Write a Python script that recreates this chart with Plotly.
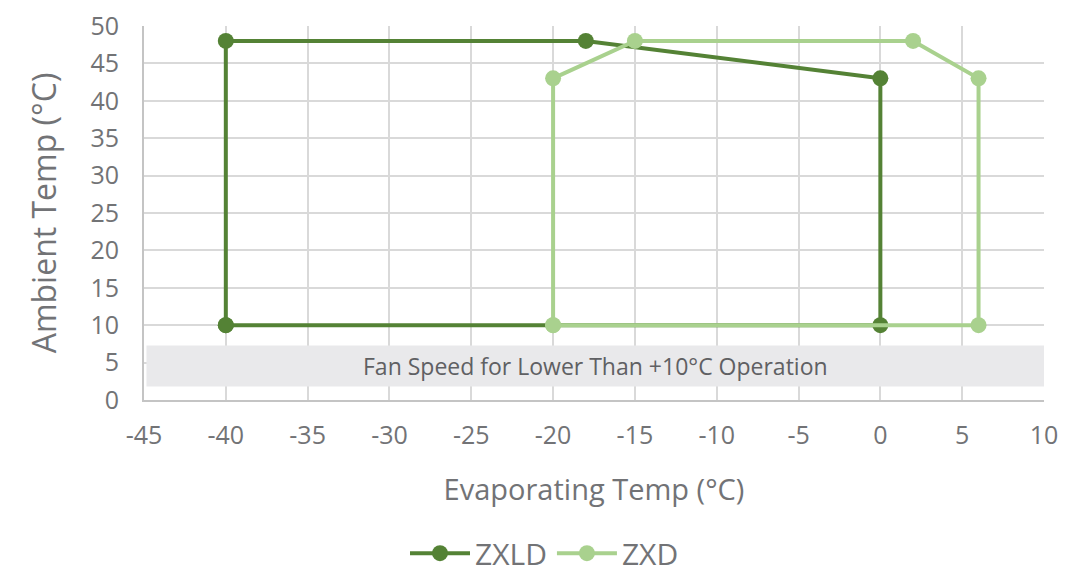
"""Operating envelope: ZXLD vs ZXD condensing units."""
import plotly.graph_objects as go

# ZXLD envelope (closed polygon)
zxld_x = [-40, -40, -18, 0, 0, -40]
zxld_y = [10, 48, 48, 43, 10, 10]

# ZXD envelope (closed polygon)
zxd_x = [-20, -20, -15, 2, 6, 6, -20]
zxd_y = [10, 43, 48, 48, 43, 10, 10]

x_ticks = [-45, -40, -35, -30, -25, -20, -15, -10, -5, 0, 5, 10]
y_ticks = [0, 5, 10, 15, 20, 25, 30, 35, 40, 45, 50]

band_x = [-44.85, 10]
band_y = [1.8, 7.3]
band_label = "Fan Speed for Lower Than +10°C Operation"

DARK = "#548235"
LIGHT = "#a9d18e"
TEXT = "#727376"
FONT = "Open Sans"

fig = go.Figure()
fig.add_trace(go.Scatter(
    x=zxld_x, y=zxld_y, name="ZXLD", mode="lines+markers",
    line=dict(color=DARK, width=4), marker=dict(size=16, color=DARK),
))
fig.add_trace(go.Scatter(
    x=zxd_x, y=zxd_y, name="ZXD", mode="lines+markers",
    line=dict(color=LIGHT, width=4), marker=dict(size=16, color=LIGHT),
))

fig.add_shape(
    type="rect", xref="x", yref="y",
    x0=band_x[0], x1=band_x[1], y0=band_y[0], y1=band_y[1],
    fillcolor="#e9e9eb", line=dict(width=0), layer="above",
)
fig.add_annotation(
    x=sum(band_x) / 2, y=sum(band_y) / 2, text=band_label, showarrow=False,
    font=dict(family=FONT, size=23, color="#5f6063"),
)

# page body adds an 8px offset, so the figure is a little smaller than the window
fig.update_layout(
    width=1063, height=569,
    margin=dict(l=136, r=27, t=18, b=177, autoexpand=False),
    paper_bgcolor="white", plot_bgcolor="white",
    font=dict(family=FONT, color=TEXT),
    showlegend=True,
    legend=dict(
        orientation="h", x=0.445, xanchor="center", y=-0.34, yanchor="top",
        font=dict(size=30, color=TEXT), itemwidth=60,
    ),
    xaxis=dict(
        range=[-45, 10], tickvals=x_ticks, ticktext=[str(v) for v in x_ticks],
        showgrid=True, gridcolor="#d9d9d9", automargin=False,
        gridwidth=2, zeroline=False, showline=True, linecolor="#c4c4c4", linewidth=2,
        tickfont=dict(size=25, color=TEXT), ticks="", ticklabelstandoff=12,
        ticklabeloverflow="allow",
        title=dict(text="Evaporating Temp (°C)", font=dict(size=29, color=TEXT), standoff=30),
    ),
    yaxis=dict(
        range=[0, 50], tickvals=y_ticks, showgrid=True, gridcolor="#d9d9d9",
        automargin=False,
        gridwidth=2, zeroline=False, showline=True, linecolor="#c4c4c4", linewidth=2,
        tickfont=dict(size=25, color=TEXT), ticks="", ticklabelstandoff=18,
        ticklabeloverflow="allow",
        title=dict(text="Ambient Temp (°C)", font=dict(size=32, color=TEXT), standoff=24),
    ),
)

fig.write_html("out.html")
